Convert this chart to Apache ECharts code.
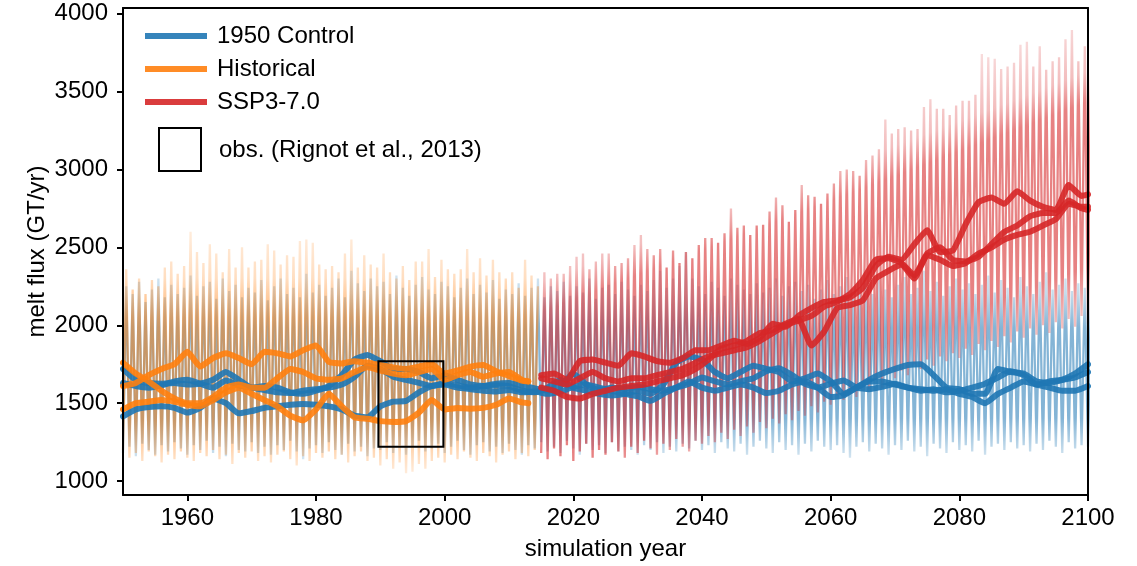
<!DOCTYPE html>
<html><head><meta charset="utf-8">
<script src="https://cdn.jsdelivr.net/npm/echarts@6/dist/echarts.min.js"></script>
<style>html,body{margin:0;padding:0;background:#fff}#c{width:1137px;height:566px}</style>
</head><body><div id="c"></div>
<script>
// ---------- DATA ----------
const xTicks = [1960, 1980, 2000, 2020, 2040, 2060, 2080, 2100];
const yTicks = [1000, 1500, 2000, 2500, 3000, 3500, 4000];
const seriesNames = ['1950 Control', 'Historical', 'SSP3-7.0'];
const obsYears = [1989.7, 1999.8];
const obsRange = [1220, 1770];

// annual peaks / troughs of the monthly series (thin lines)
const ctrlStart = 1950;
const ctrlPeak = [
2250,2200,2280,2150,2230,2300,2180,2260,2200,2240,
2320,2190,2250,2280,2170,2300,2220,2260,2180,2240,
2210,2290,2160,2250,2300,2200,2240,2180,2330,2210,
2260,2190,2240,2300,2180,2350,2270,2220,2300,2250,
2280,2200,2320,2240,2190,2260,2310,2230,2200,2280,
2250,2180,2240,2300,2200,2260,2210,2290,2170,2230,
2200,2270,2190,2240,2300,2180,2250,2220,2280,2190,
2250,2210,2300,2170,2240,2260,2200,2280,2230,2190,
2260,2220,2290,2350,2240,2300,2380,2470,2300,2250,
2200,2280,2240,2190,2300,2260,2230,2200,2270,2210,
2240,2300,2190,2250,2280,2220,2260,2170,2230,2290,
2200,2250,2310,2180,2240,2270,2200,2290,2230,2180,
2260,2310,2200,2240,2350,2220,2280,2190,2250,2300,
2230,2270,2200,2260,2320,2210,2290,2240,2180,2310,
2250,2200,2280,2340,2230,2260,2300,2220,2270,2240,
2260];
const ctrlTrough = [
1180,1220,1160,1240,1200,1170,1230,1190,1250,1210,
1170,1230,1200,1260,1180,1220,1160,1240,1200,1190,
1250,1180,1220,1170,1230,1200,1260,1190,1140,1210,
1230,1180,1250,1200,1170,1240,1190,1220,1160,1210,
1200,1250,1180,1230,1170,1220,1260,1190,1210,1240,
1180,1220,1260,1200,1170,1230,1250,1190,1220,1180,
1240,1200,1170,1230,1210,1250,1190,1220,1180,1260,
1210,1170,1240,1200,1230,1180,1250,1190,1220,1200,
1170,1230,1200,1250,1180,1220,1190,1240,1210,1260,
1200,1230,1180,1250,1210,1190,1240,1170,1220,1260,
1210,1180,1250,1200,1230,1170,1240,1190,1260,1220,
1200,1230,1180,1150,1220,1250,1190,1240,1210,1170,
1230,1200,1260,1190,1220,1160,1240,1210,1180,1250,
1200,1230,1190,1260,1170,1220,1240,1200,1250,1210,
1230,1190,1240,1200,1260,1220,1180,1250,1210,1230,
1220];
const histStart = 1950;
const histPeak = [
2360,2230,2300,2200,2290,2250,2370,2410,2330,2380,
2600,2470,2400,2520,2460,2340,2490,2370,2500,2370,
2410,2420,2520,2480,2390,2450,2440,2540,2550,2530,
2390,2360,2380,2340,2460,2550,2370,2450,2390,2370,
2460,2340,2300,2380,2290,2410,2410,2490,2310,2420,
2360,2330,2360,2490,2340,2430,2320,2420,2340,2300,
2340,2240,2420,2320,2250];
const histTrough = [
1200,1150,1180,1130,1190,1160,1120,1170,1140,1190,
1150,1130,1180,1160,1200,1140,1170,1110,1180,1150,
1190,1130,1160,1120,1170,1190,1140,1100,1160,1130,
1180,1150,1190,1140,1170,1120,1160,1190,1130,1150,
1100,1140,1080,1120,1050,1060,1110,1080,1130,1150,
1120,1170,1140,1190,1150,1130,1180,1160,1120,1170,
1190,1140,1180,1160,1200];
const sspStart = 2015;
const sspPeak = [
2340,2300,2330,2330,2380,2440,2460,2360,2410,2460,
2460,2380,2400,2430,2515,2580,2490,2450,2490,2370,
2480,2400,2470,2430,2515,2560,2560,2530,2590,2750,
2625,2640,2580,2640,2645,2730,2820,2770,2665,2740,
2900,2835,2825,2780,2845,2910,2990,3000,2990,2960,
3060,3090,3130,3320,3230,3260,3270,3250,3260,3400,
3450,3390,3390,3350,3410,3440,3440,3480,3740,3720,
3710,3645,3660,3685,3800,3820,3660,3790,3640,3695,
3720,3835,3895,3695,3790,3700];
const sspTrough = [
1180,1140,1210,1160,1230,1130,1190,1240,1150,1200,
1170,1250,1190,1150,1220,1180,1260,1210,1170,1240,
1200,1270,1220,1190,1260,1240,1290,1250,1310,1270,
1330,1290,1350,1310,1380,1340,1400,1370,1430,1390,
1450,1420,1480,1440,1510,1490,1550,1520,1580,1540,
1610,1590,1650,1600,1690,1660,1710,1680,1750,1720,
1780,1740,1800,1770,1820,1790,1850,1810,1880,1840,
1900,1860,1930,1890,1960,1920,1980,1940,2000,1950,
2020,1980,2040,1990,2060,2010];

// smoothed members (thick lines), sampled every 2 years
const ctrlMeanStart = 1950, ctrlMeanEnd = 2100;
const ctrlMean1 = [1720,1650,1630,1625,1630,1620,1625,1650,1700,1650,1600,1610,1600,1570,1560,1580,1610,1680,1780,1810,1770,1720,1720,1700,1660,1680,1650,1620,1610,1615,1610,1580,1570,1600,1650,1600,1580,1560,1550,1560,1580,1560,1620,1760,1800,1780,1700,1660,1700,1740,1720,1700,1640,1660,1690,1640,1560,1600,1650,1690,1720,1745,1750,1680,1600,1590,1560,1560,1720,1700,1690,1640,1630,1650,1690,1750];
const ctrlMean2 = [1630,1610,1600,1615,1640,1650,1625,1600,1645,1615,1600,1585,1570,1565,1580,1590,1600,1620,1670,1740,1720,1670,1650,1630,1610,1630,1615,1600,1610,1625,1630,1615,1595,1580,1610,1690,1620,1585,1600,1595,1605,1590,1580,1600,1625,1665,1640,1620,1640,1660,1705,1725,1680,1625,1600,1625,1645,1600,1590,1605,1625,1600,1580,1590,1570,1580,1600,1625,1665,1705,1680,1620,1640,1650,1665,1700];
const ctrlMean3 = [1415,1460,1475,1480,1470,1440,1470,1530,1500,1435,1450,1470,1480,1490,1495,1490,1480,1460,1420,1410,1480,1510,1515,1570,1610,1620,1600,1590,1580,1575,1585,1570,1575,1560,1575,1605,1620,1600,1580,1560,1545,1515,1560,1600,1640,1600,1580,1600,1620,1600,1565,1580,1620,1640,1600,1540,1550,1600,1640,1640,1620,1600,1590,1580,1590,1560,1540,1500,1560,1600,1640,1620,1600,1580,1580,1610];
const histMeanStart = 1950, histMeanEnd = 2013;
const histMean1 = [1610,1630,1680,1720,1750,1830,1735,1790,1820,1790,1750,1830,1820,1800,1840,1870,1765,1755,1770,1760,1745,1730,1720,1735,1750,1690,1710,1735,1745,1705,1675,1645,1640];
const histMean2 = [1760,1690,1640,1580,1530,1500,1500,1540,1600,1620,1600,1600,1660,1720,1700,1660,1650,1660,1700,1730,1710,1690,1680,1700,1720,1650,1680,1700,1670,1690,1700,1650,1640];
const histMean3 = [1460,1500,1510,1520,1510,1490,1480,1520,1570,1600,1560,1520,1480,1420,1390,1460,1560,1480,1410,1400,1385,1380,1385,1440,1520,1460,1470,1465,1470,1490,1530,1505,1500];
const sspMeanStart = 2015, sspMeanEnd = 2100;
const sspMean1 = [1680,1690,1650,1770,1780,1760,1740,1820,1800,1770,1760,1790,1840,1840,1870,1900,1880,1920,2010,1990,2060,2110,2150,2160,2180,2240,2380,2440,2420,2520,2610,2470,2480,2650,2790,2820,2780,2860,2800,2760,2740,2900,2830,2840];
const sspMean2 = [1600,1580,1540,1530,1560,1580,1600,1610,1620,1640,1660,1680,1720,1780,1850,1870,1900,1950,1970,2010,2040,1870,1960,2110,2130,2160,2300,2350,2390,2300,2450,2420,2380,2400,2460,2500,2550,2580,2600,2640,2680,2780,2760,2760];
const sspMean3 = [1660,1640,1620,1660,1700,1660,1640,1660,1660,1680,1700,1720,1760,1800,1820,1840,1860,1900,1950,2000,2030,2060,2120,2150,2200,2290,2420,2430,2400,2320,2460,2500,2420,2410,2440,2520,2600,2640,2700,2720,2720,2800,2750,2740];

// ---------- BUILD ----------
const FONT = '"Liberation Sans", Arial, sans-serif';
const COL = {ctrl: [31,119,180], hist: [255,127,14], ssp: [214,39,40]};
const rgba = (c, a) => `rgba(${c[0]},${c[1]},${c[2]},${a})`;

function zigzag(start, trough, peak) {
  const out = [];
  for (let i = 0; i < peak.length; i++) {
    out.push([start + i, trough[i]]);
    out.push([start + i + 0.5, peak[i]]);
  }
  return out;
}
function sampled(start, end, vals) {
  return vals.map((v, i) => [Math.min(start + 2 * i, end), v]);
}
function thin(name, data, c, a) {
  return {type: 'line', name: name, data: data, showSymbol: false, z: 1, silent: true,
    lineStyle: {width: 2.3, color: rgba(c, a)}, itemStyle: {color: rgba(c, a)}};
}
function thick(name, data, c) {
  return {type: 'line', name: name, data: data, showSymbol: false, smooth: 0.15, z: 3, silent: true,
    lineStyle: {width: 6, color: rgba(c, 0.9), cap: 'round', join: 'round'}, itemStyle: {color: rgba(c, 0.9)}};
}

const series = [
  thin('ctrl-monthly', zigzag(ctrlStart, ctrlTrough, ctrlPeak), COL.ctrl, 0.42),
  thin('hist-monthly', zigzag(histStart, histTrough, histPeak), COL.hist, 0.45),
  thin('ssp-monthly', zigzag(sspStart, sspTrough, sspPeak), COL.ssp, 0.48),
  thick(seriesNames[0], sampled(ctrlMeanStart, ctrlMeanEnd, ctrlMean1), COL.ctrl),
  thick(seriesNames[0], sampled(ctrlMeanStart, ctrlMeanEnd, ctrlMean2), COL.ctrl),
  thick(seriesNames[0], sampled(ctrlMeanStart, ctrlMeanEnd, ctrlMean3), COL.ctrl),
  thick(seriesNames[1], sampled(histMeanStart, histMeanEnd, histMean1), COL.hist),
  thick(seriesNames[1], sampled(histMeanStart, histMeanEnd, histMean2), COL.hist),
  thick(seriesNames[1], sampled(histMeanStart, histMeanEnd, histMean3), COL.hist),
  thick(seriesNames[2], sampled(sspMeanStart, sspMeanEnd, sspMean1), COL.ssp),
  thick(seriesNames[2], sampled(sspMeanStart, sspMeanEnd, sspMean2), COL.ssp),
  thick(seriesNames[2], sampled(sspMeanStart, sspMeanEnd, sspMean3), COL.ssp),
  {type: 'custom', name: 'obs', z: 6, silent: true,
   data: [[obsYears[0], obsRange[0], obsYears[1], obsRange[1]]],
   renderItem: function (params, api) {
     const p0 = api.coord([api.value(0), api.value(3)]);
     const p1 = api.coord([api.value(2), api.value(1)]);
     return {type: 'rect', shape: {x: p0[0], y: p0[1], width: p1[0] - p0[0], height: p1[1] - p0[1]},
       style: {fill: 'rgba(0,0,0,0)', stroke: '#000', lineWidth: 2}};
   }}
];

const tickStyle = {show: true, length: 6, inside: false, lineStyle: {color: '#000', width: 2}};
const lblStyle = {color: '#000', fontSize: 24, fontFamily: FONT};
const plain = v => String(v);
const chart = echarts.init(document.getElementById('c'), null, {renderer: 'canvas'});
chart.setOption({
  animation: false,
  backgroundColor: '#fff',
  grid: {left: 123, right: 49, top: 8, bottom: 68, show: false},
  xAxis: [
    {type: 'value', min: 1950, max: 2100, position: 'bottom', z: 10,
     axisLine: {show: true, onZero: false, lineStyle: {color: '#000', width: 2}},
     axisTick: Object.assign({customValues: xTicks}, tickStyle),
     axisLabel: Object.assign({customValues: xTicks, margin: 11, formatter: plain}, lblStyle),
     splitLine: {show: false},
     name: 'simulation year', nameLocation: 'middle', nameGap: 42, nameMoveOverlap: false, nameTextStyle: lblStyle},
    {type: 'value', min: 1950, max: 2100, position: 'top', z: 10,
     axisLine: {show: true, onZero: false, lineStyle: {color: '#000', width: 2}},
     axisTick: {show: false}, axisLabel: {show: false}, splitLine: {show: false}}
  ],
  yAxis: [
    {type: 'value', min: 911, max: 4036, position: 'left', z: 10,
     axisLine: {show: true, onZero: false, lineStyle: {color: '#000', width: 2}},
     axisTick: Object.assign({customValues: yTicks}, tickStyle),
     axisLabel: Object.assign({customValues: yTicks, margin: 15, formatter: plain}, lblStyle),
     splitLine: {show: false},
     name: 'melt flux (GT/yr)', nameLocation: 'middle', nameGap: 74, nameMoveOverlap: false, nameRotate: 90, nameTextStyle: lblStyle},
    {type: 'value', min: 911, max: 4036, position: 'right', z: 10,
     axisLine: {show: true, onZero: false, lineStyle: {color: '#000', width: 2}},
     axisTick: {show: false}, axisLabel: {show: false}, splitLine: {show: false}}
  ],
  legend: {orient: 'vertical', left: 145, top: 24, padding: 0, itemWidth: 62, itemHeight: 6, itemGap: 9,
    icon: 'rect', selectedMode: false,
    textStyle: {color: '#000', fontSize: 24, lineHeight: 24, fontFamily: FONT, padding: [0, 0, 0, 5]},
    data: [
      {name: seriesNames[0], itemStyle: {color: rgba(COL.ctrl, 0.9)}},
      {name: seriesNames[1], itemStyle: {color: rgba(COL.hist, 0.9)}},
      {name: seriesNames[2], itemStyle: {color: rgba(COL.ssp, 0.9)}}
    ]},
  graphic: [
    {type: 'rect', shape: {x: 159, y: 128, width: 42, height: 43}, z: 20,
     style: {fill: 'rgba(0,0,0,0)', stroke: '#000', lineWidth: 2}},
    {type: 'text', x: 219, y: 150, z: 20,
     style: {text: 'obs. (Rignot et al., 2013)', font: '24px "Liberation Sans", Arial, sans-serif', fill: '#000', verticalAlign: 'middle'}}
  ],
  series: series
});

// fade the tips of the monthly lines (ensemble overlap is densest in the core)
const toPx = v => chart.convertToPixel({xAxisIndex: 0, yAxisIndex: 0}, v);
function grad(p0, p1, c, stops) {
  return new echarts.graphic.LinearGradient(p0[0], p0[1], p1[0], p1[1],
    stops.map(s => ({offset: s[0], color: rgba(c, s[1])})), true);
}
const fadeStops = [[0, 0.14], [0.2, 0.26], [0.36, 0.55], [0.78, 0.55], [0.92, 0.28], [1, 0.14]];
const gCtrl = grad(toPx([2000, 2480]), toPx([2000, 1100]), COL.ctrl, fadeStops);
const gHist = grad(toPx([2000, 2620]), toPx([2000, 1040]), COL.hist, fadeStops);
// SSP: gradient perpendicular to the warming trend of the upper envelope
const A = toPx([2015, 2250]), B = toPx([2100, 3600]);
const tx = B[0] - A[0], ty = B[1] - A[1], tl = Math.hypot(tx, ty);
const nx = -ty / tl, ny = tx / tl; // points downward on screen
const s0 = [A[0] - nx * 60, A[1] - ny * 60], s1 = [A[0] + nx * 220, A[1] + ny * 220];
const gSsp = grad(s0, s1, COL.ssp, [[0, 0.16], [0.2, 0.3], [0.3, 0.58], [0.85, 0.58], [1, 0.3]]);
chart.setOption({series: [
  {lineStyle: {color: gCtrl}}, {lineStyle: {color: gHist}}, {lineStyle: {color: gSsp}}
]});
</script></body></html>
